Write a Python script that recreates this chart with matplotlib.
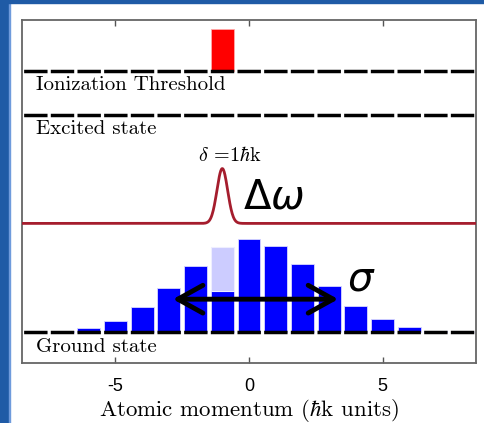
import numpy as np
import matplotlib
matplotlib.use("Agg")
import matplotlib.pyplot as plt
from matplotlib.patches import Rectangle

plt.rcParams['font.family'] = ['Liberation Sans', 'DejaVu Sans']
plt.rcParams['axes.unicode_minus'] = False
plt.rcParams['lines.scale_dashes'] = False

# momentum bins (hbar k) and ground state population
momentum = [-8, -7, -6, -5, -4, -3, -2, -1, 0, 1, 2, 3, 4, 5, 6, 7, 8]
ground_pop = [0.0, 0.12, 0.4, 1.1, 2.5, 4.4, 6.6, 4.15, 9.3, 8.6, 6.8, 4.6, 2.6, 1.3, 0.5, 0.13, 0.0]
# part of the -1 bin that gets excited (drawn light)
excited_bin = [-1]
excited_bottom = [4.15]
excited_height = [4.35]
# ionized population above threshold
ionized_bin = [-1]
ionized_height = [4.2]

# energy levels
ground_level = 0.0
excited_level = 21.8
ionization_level = 26.2
laser_level = 10.9

# laser line profile
laser_center = -1.0
laser_width = 0.2
laser_height = 5.5

# sigma arrow
sigma_left = -2.85
sigma_right = 3.34
sigma_y = 3.3

xticks = [-5, 0, 5]
xticklabels = ['-5', '0', '5']

W, H = 485, 423
fig = plt.figure(figsize=(W / 100, H / 100), dpi=100)
ax = fig.add_axes([22 / W, 1 - 363 / H, (476 - 22) / W, (363 - 20) / H])

# blue slide frame
fig.patches.append(Rectangle((0, 0), 9 / W, 1, transform=fig.transFigure,
                             color='#1f5ba6', zorder=0))
fig.patches.append(Rectangle((9 / W, 0), 1.2 / W, 1, transform=fig.transFigure,
                             color='#6f9bdc', zorder=0))
fig.patches.append(Rectangle((0, 1 - 3 / H), 1, 3 / H, transform=fig.transFigure,
                             color='#1f5ba6', zorder=0))

bw = 0.86
ax.bar(momentum, ground_pop, width=bw, bottom=ground_level, color='#0000ff',
       edgecolor='#d8d8ff', linewidth=0.6, zorder=2)
ax.bar(excited_bin, excited_height, width=bw, bottom=excited_bottom, color='#ccccff',
       edgecolor='#eeeeff', linewidth=0.8, zorder=2)
ax.bar(ionized_bin, ionized_height, width=bw, bottom=ionization_level, color='#ff0000',
       edgecolor='#ffaaaa', linewidth=0.6, zorder=2)

# dashed level lines, one dash per momentum bin
on, off = 23.4 * 0.72, 3.27 * 0.72
for lev in [ground_level, excited_level, ionization_level]:
    ax.plot([-8.5, 8.5], [lev, lev], color='black', lw=2.5,
            linestyle=(on + off / 2, (on, off)), zorder=3)

# laser
xs = np.linspace(-8.5, 8.5, 1200)
ys = laser_level + laser_height * np.exp(-(xs - laser_center) ** 2 / (2 * laser_width ** 2))
ax.plot(xs, ys, color='#a51d2d', lw=2.0, zorder=3)

ax.annotate('', xy=(sigma_right, sigma_y), xytext=(sigma_left, sigma_y),
            arrowprops=dict(arrowstyle='<->,head_length=0.45,head_width=0.25',
                            lw=3.5, color='black', mutation_scale=40,
                            shrinkA=0, shrinkB=0, capstyle='round'),
            zorder=4)

txt = dict(family='cmr10', math_fontfamily='cm')
ax.text(-7.98, 24.8, 'Ionization Threshold', fontsize=15, va='center', ha='left', **txt)
ax.text(-7.98, 20.4, 'Excited state', fontsize=15, va='center', ha='left', **txt)
ax.text(-7.98, -1.5, 'Ground state', fontsize=15, va='center', ha='left', **txt)
ax.text(-0.71, 17.75, r'$\delta$ =1$\hbar$k', fontsize=14.5, va='center', ha='center', **txt)
ax.text(-0.22, 12.4, r'$\Delta\omega$', fontsize=29, ha='left', va='baseline',
        math_fontfamily='dejavusans')
ax.text(3.67, 4.2, r'$\sigma$', fontsize=29, ha='left', va='baseline',
        math_fontfamily='dejavusans')

ax.set_xlim(-8.5, 8.5)
ax.set_ylim(-3.1, 31.3)
ax.set_xticks(xticks)
ax.set_xticklabels(xticklabels)
ax.set_yticks([])
ax.tick_params(axis='x', direction='in', top=True, length=4, width=1,
               color='#555555', labelsize=13, pad=11)
for s in ax.spines.values():
    s.set_color('#666666')
    s.set_linewidth(1.3)
ax.set_xlabel(r'Atomic momentum ($\hbar$k units)', fontsize=16.5, labelpad=1, **txt)

fig.savefig('out.png', dpi=100)
